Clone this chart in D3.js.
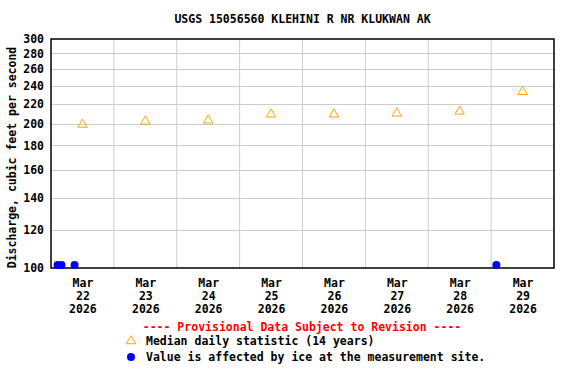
<!DOCTYPE html>
<html>
<head>
<meta charset="utf-8">
<script src="https://cdn.jsdelivr.net/npm/d3@7"></script>
<style>
  body { margin: 0; background: #fff; }
  text { font-family: "DejaVu Sans Mono", monospace; font-weight: bold; }
</style>
</head>
<body>
<div id="plot"></div>
<script>
// Median daily statistic (14 years), plotted at noon of each day
var medianDays = ["2026-03-22", "2026-03-23", "2026-03-24", "2026-03-25",
                  "2026-03-26", "2026-03-27", "2026-03-28", "2026-03-29"];
var medianValues = [200, 203, 204, 210, 210, 211, 213, 234];

// Ice-affected values (drawn at the bottom of the plot)
var iceTimes = ["2026-03-22T02:30", "2026-03-22T04:00", "2026-03-22T09:00", "2026-03-29T02:00"];
var iceValues = [101, 101, 101, 101];

var yTicks = [100, 120, 140, 160, 180, 200, 220, 240, 260, 280, 300];
var dayTicks = ["2026-03-22", "2026-03-23", "2026-03-24", "2026-03-25",
                "2026-03-26", "2026-03-27", "2026-03-28", "2026-03-29"];

function init() {
  var w = 576;
  var h = 384;
  var left = 51, right = 554, top = 39, bottom = 268;

  var parse = d3.timeParse("%Y-%m-%dT%H:%M");
  var parseDay = d3.timeParse("%Y-%m-%d");

  var svg = d3.select("#plot")
    .append("svg")
    .attr("width", w)
    .attr("height", h);

  var xScale = d3.scaleTime()
    .domain([parseDay("2026-03-22"), parseDay("2026-03-30")])
    .range([left, right]);

  var yScale = d3.scaleLog()
    .domain([100, 300])
    .range([bottom, top]);

  // vertical gridlines at midnight
  var gridDays = d3.timeDay.range(parseDay("2026-03-23"), parseDay("2026-03-30"));
  svg.append("g")
    .selectAll("line")
    .data(gridDays)
    .enter()
    .append("line")
    .attr("x1", function(d) { return xScale(d); })
    .attr("x2", function(d) { return xScale(d); })
    .attr("y1", top)
    .attr("y2", bottom)
    .attr("stroke", "#cccccc")
    .attr("stroke-width", 1);

  // horizontal gridlines
  svg.append("g")
    .selectAll("line")
    .data(yTicks.slice(1, -1))
    .enter()
    .append("line")
    .attr("x1", left)
    .attr("x2", right)
    .attr("y1", function(d) { return Math.round(yScale(d)) + 0.5; })
    .attr("y2", function(d) { return Math.round(yScale(d)) + 0.5; })
    .attr("stroke", "#cccccc")
    .attr("stroke-width", 1);

  // frame
  svg.append("rect")
    .attr("x", left)
    .attr("y", top)
    .attr("width", right - left)
    .attr("height", bottom - top)
    .attr("fill", "none")
    .attr("stroke", "#000")
    .attr("stroke-width", 1.5);

  // y axis
  var yAxis = d3.axisLeft(yScale)
    .tickValues(yTicks)
    .tickFormat(d3.format("d"))
    .tickSize(0)
    .tickPadding(7);
  var gy = svg.append("g")
    .attr("transform", "translate(" + left + ",0)")
    .call(yAxis);
  gy.select(".domain").remove();
  gy.selectAll("text")
    .attr("font-family", "DejaVu Sans Mono")
    .attr("font-size", 11.5)
    .attr("font-weight", "bold")
    .attr("fill", "#000");

  // x axis labels at noon of each day
  var noon = dayTicks.map(function(d) { return d3.timeHour.offset(parseDay(d), 12); });
  var xAxis = d3.axisBottom(xScale)
    .tickValues(noon)
    .tickSize(0)
    .tickFormat("");
  var gx = svg.append("g")
    .attr("transform", "translate(0," + bottom + ")")
    .call(xAxis);
  gx.select(".domain").remove();
  var fmts = [d3.timeFormat("%b"), d3.timeFormat("%d"), d3.timeFormat("%Y")];
  gx.selectAll(".tick").each(function(d) {
    var t = d3.select(this).append("text")
      .attr("text-anchor", "middle")
      .attr("font-size", 11.5)
      .attr("fill", "#000");
    fmts.forEach(function(f, i) {
      t.append("tspan")
        .attr("x", 0)
        .attr("y", 19 + i * 13)
        .text(f(d));
    });
  });

  // median triangles
  var tri = d3.symbol().type(d3.symbolTriangle).size(38);
  svg.append("g")
    .selectAll("path")
    .data(medianValues)
    .enter()
    .append("path")
    .attr("d", tri)
    .attr("transform", function(d, i) {
      var x = xScale(d3.timeHour.offset(parseDay(medianDays[i]), 12));
      return "translate(" + x + "," + (yScale(d) + 1) + ")";
    })
    .attr("fill", "none")
    .attr("stroke", "#ffa500")
    .attr("stroke-width", 1);

  // ice dots
  svg.append("g")
    .selectAll("circle")
    .data(iceValues)
    .enter()
    .append("circle")
    .attr("cx", function(d, i) { return xScale(parse(iceTimes[i])); })
    .attr("cy", function(d) { return yScale(d) - 1; })
    .attr("r", 4)
    .attr("fill", "#0000ff");

  // title
  svg.append("text")
    .attr("x", (left + right) / 2)
    .attr("y", 23)
    .attr("text-anchor", "middle")
    .attr("font-size", 11.5)
    .text("USGS 15056560 KLEHINI R NR KLUKWAN AK");

  // y label
  svg.append("text")
    .attr("text-anchor", "middle")
    .attr("transform", "rotate(-90)")
    .attr("x", -(top + bottom) / 2 - 4)
    .attr("y", 16)
    .attr("font-size", 11.5)
    .text("Discharge, cubic feet per second");

  // legend
  svg.append("text")
    .attr("x", 302)
    .attr("y", 331)
    .attr("text-anchor", "middle")
    .attr("font-size", 11.5)
    .attr("fill", "#ff0000")
    .text("---- Provisional Data Subject to Revision ----");

  svg.append("path")
    .attr("d", tri)
    .attr("transform", "translate(131,341)")
    .attr("fill", "none")
    .attr("stroke", "#ffa500")
    .attr("stroke-width", 1);
  svg.append("text")
    .attr("x", 146)
    .attr("y", 345)
    .attr("font-size", 11.5)
    .text("Median daily statistic (14 years)");

  svg.append("circle")
    .attr("cx", 131)
    .attr("cy", 357)
    .attr("r", 4)
    .attr("fill", "#0000ff");
  svg.append("text")
    .attr("x", 146)
    .attr("y", 361)
    .attr("font-size", 11.5)
    .text("Value is affected by ice at the measurement site.");
}

window.onload = init;
</script>
</body>
</html>
